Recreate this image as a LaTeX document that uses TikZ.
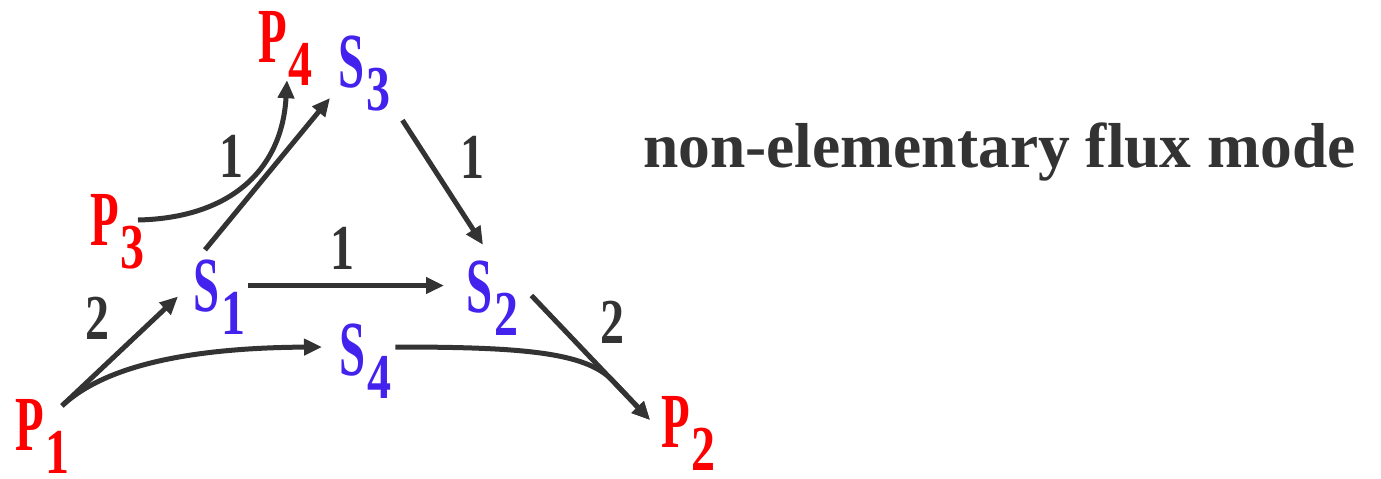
\documentclass[tikz,border=0pt]{standalone}
\usepackage{fontspec}
\setmainfont{Liberation Serif}
\newfontfamily\tms{Liberation Serif}
\usetikzlibrary{arrows.meta}
\definecolor{dk}{RGB}{51,51,51}
\definecolor{pred}{RGB}{255,0,0}
\definecolor{sblue}{RGB}{68,34,238}
\newcommand{\spec}[3]{\textcolor{#3}{\scalebox{0.6}[1]{\fontsize{78pt}{78pt}\selectfont\tms\bfseries #1}\kern2pt\raisebox{-23pt}{\scalebox{0.75}[1]{\fontsize{64pt}{64pt}\selectfont\tms\bfseries #2}}}}
\newcommand{\coefnum}[1]{\textcolor{dk}{\scalebox{0.75}[1]{\fontsize{64pt}{64pt}\selectfont\tms\bfseries #1}}}
\begin{document}
\begin{tikzpicture}[x=1pt,y=-1pt,font=\tms\bfseries,
  specnode/.style={inner sep=0pt,anchor=base west,text height=52pt,text depth=20pt},
  coef/.style={inner sep=0pt},
  flux/.style={draw=dk,line width=5pt,-{Triangle[length=18pt,width=16pt]}}]
\useasboundingbox (0,0) rectangle (1381,479);
% species
\node[specnode] (P1) at (15,450) {\spec{P}{1}{pred}};
\node[specnode] (P2) at (661,447) {\spec{P}{2}{pred}};
\node[specnode] (P3) at (90,245) {\spec{P}{3}{pred}};
\node[specnode] (P4) at (258,62) {\spec{P}{4}{pred}};
\node[specnode] (S1) at (193,311) {\spec{S}{1}{sblue}};
\node[specnode] (S2) at (466,312) {\spec{S}{2}{sblue}};
\node[specnode] (S3) at (338,87) {\spec{S}{3}{sblue}};
\node[specnode] (S4) at (339,375) {\spec{S}{4}{sblue}};
% connectors
\draw[flux] ([shift={(-8,8)}]P1.north east) -- ([shift={(-15,1.5)}]S1.west);
\draw[flux] ([shift={(-8,8)}]P1.north east) .. controls ++(28,-26) and ++(-172,1) .. ([shift={(-17,-12)}]S4.west);
\draw[flux] ([shift={(3,-9.5)}]S1.east) -- ([shift={(-22,-10.5)}]S2.west);
\draw[flux] ([shift={(12,-9)}]S1.north west) -- ([shift={(-8,27)}]S3.west);
\draw[flux] ([shift={(-7,-9)}]P3.east) .. controls ++(92,-2) and ++(-5,90) .. ([shift={(29,-2)}]P4.south west);
\draw[flux] ([shift={(12,13)}]S3.south east) -- ([shift={(17,-15)}]S2.north west);
\draw[flux] ([shift={(13,-0.5)}]S2.east) -- ([shift={(-11,-11)}]P2.west);
\draw[flux] ([shift={(4,-12)}]S4.east) .. controls ++(125,0) and ++(-27,-28) .. (612,380) -- ([shift={(-11,-11)}]P2.west);
% coefficients
\node[coef] (c13) at (231,156) {\coefnum{1}};
\node[coef] (c32) at (472,157) {\coefnum{1}};
\node[coef] (c12) at (342,248) {\coefnum{1}};
\node[coef] (cp1) at (97,318) {\coefnum{2}};
\node[coef] (cp2) at (612,322) {\coefnum{2}};
% title
\node[inner sep=0pt,anchor=base west] (title) at (643,167) {\textcolor{dk}{\fontsize{63.5pt}{63.5pt}\selectfont\tms\bfseries non-elementary flux mode}};
\end{tikzpicture}
\end{document}
